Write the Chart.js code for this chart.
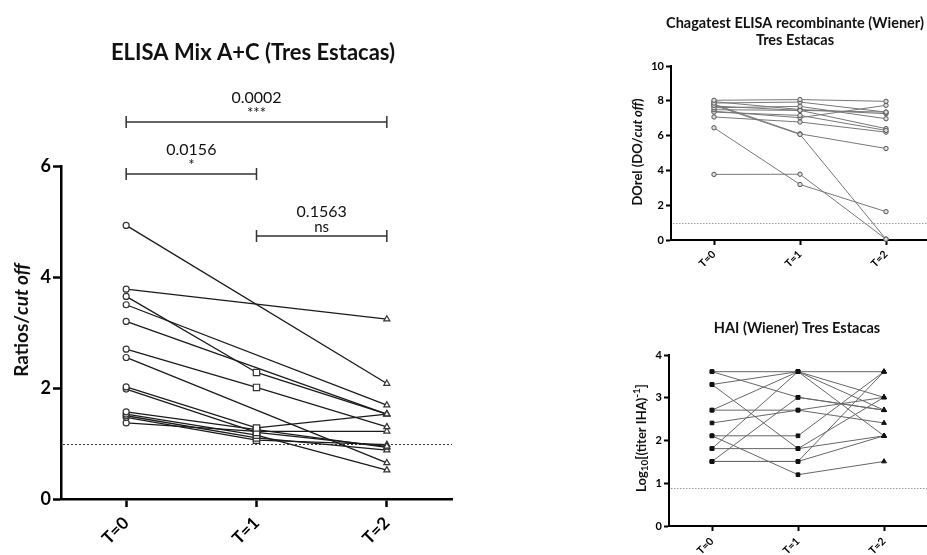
<!DOCTYPE html>
<html>
<head>
<meta charset="utf-8">
<script src="https://cdn.jsdelivr.net/npm/chart.js@4.4.1/dist/chart.umd.min.js"></script>
<style>
html, body { margin: 0; padding: 0; background: #fff; width: 927px; height: 555px; overflow: hidden; position: relative; }
canvas { position: absolute; }
</style>
</head>
<body>
<canvas id="elisa" width="470" height="555" style="left:0;top:0"></canvas>
<canvas id="chaga" width="345" height="290" style="left:600px;top:0"></canvas>
<canvas id="hai" width="345" height="255" style="left:600px;top:300px"></canvas>
<script>
var times = ['T=0', 'T=1', 'T=2'];

// ELISA Mix A+C, one value per patient and time (null = no sample)
var elisaT0 = [4.93, 3.78, 3.65, 3.50, 3.20, 2.70, 2.55, 2.02, 1.98, 1.57, 1.53, 1.50, 1.47, 1.37];
var elisaT1 = [null, null, 2.28, null, null, 2.01, null, 1.28, 1.20, 1.25, 1.15, 1.10, 1.06, 1.22];
var elisaT2 = [2.08, 3.24, 1.53, 1.69, 1.53, 1.30, 0.65, 1.53, 0.95, 0.93, 0.52, 0.88, 0.98, 1.22];
var elisaCutoff = 1;
var elisaMax = 6;

// p values shown above the ELISA panel
var compFrom = [0, 0, 1];
var compTo = [2, 1, 2];
var compLevel = [6.79, 5.86, 4.74];
var compP = ['0.0002', '0.0156', '0.1563'];
var compStars = ['***', '*', 'ns'];

// Chagatest ELISA recombinante (Wiener)
var chagaT0 = [8.03, 7.87, 7.74, 7.60, 7.49, 7.35, 7.07, 7.80, 7.40, 6.45, 3.77, 7.70, 7.95];
var chagaT1 = [8.07, 7.93, 6.07, 7.68, 7.45, 7.16, 6.78, 6.10, 7.03, 3.19, 3.78, 7.45, 7.50];
var chagaT2 = [7.97, 7.35, 0.05, 6.97, 7.35, 6.30, 6.20, 5.26, 7.74, 1.63, 0.05, 6.40, 7.26];
var chagaCutoff = 1;
var chagaMax = 10;

// HAI (Wiener), log10 of inverse titer
var haiT0 = [3.61, 3.61, 3.31, 3.31, 2.71, 2.71, 2.41, 2.11, 2.11, 1.81, 1.81, 1.51, 1.51, 1.51];
var haiT1 = [3.61, 3.01, 3.61, 1.81, 2.71, 3.61, 2.71, 2.11, 1.20, 1.81, 3.61, 1.51, 3.01, 1.51];
var haiT2 = [3.61, 2.71, 2.11, 3.01, 3.01, 2.71, 2.41, 3.61, 1.51, 2.11, 3.01, 3.61, 2.71, 2.11];
var haiCutoff = 0.9;
var haiMax = 4;

var FONT = 'Lato, "Open Sans", sans-serif';

function subjects(t0, t1, t2, st) {
    var out = [];
    for (var i = 0; i < t0.length; i++) {
        out.push({
            data: [t0[i], t1[i], t2[i]],
            borderColor: st.line,
            borderWidth: st.lineWidth,
            pointStyle: st.shapes,
            pointRadius: st.radius,
            pointBorderColor: st.pointBorder,
            pointBorderWidth: st.pointBorderWidth,
            pointBackgroundColor: st.pointFill,
            spanGaps: true,
            tension: 0,
            clip: false
        });
    }
    return out;
}

// title, rotated y title, dotted cut-off line and comparison brackets
var deco = {
    id: 'deco',
    beforeDatasetsDraw: function (chart, args, o) {
        var ctx = chart.ctx, a = chart.chartArea, y = chart.scales.y;
        ctx.save();
        ctx.setLineDash(o.dash);
        ctx.strokeStyle = o.dashColor;
        ctx.lineWidth = 1;
        var yc = Math.round(y.getPixelForValue(o.cutoff)) + 0.5;
        ctx.beginPath();
        ctx.moveTo(a.left + 2, yc);
        ctx.lineTo(a.right, yc);
        ctx.stroke();
        ctx.restore();
    },
    afterDraw: function (chart, args, o) {
        var ctx = chart.ctx, x = chart.scales.x, y = chart.scales.y;
        ctx.save();
        ctx.fillStyle = '#111';
        ctx.textAlign = 'center';
        ctx.textBaseline = 'middle';
        ctx.font = o.titleFont;
        o.title.forEach(function (t, i) {
            ctx.fillText(t, o.titleX, o.titleY + i * o.titleGap);
        });

        // y title made of runs (italic parts, sub/superscripts)
        ctx.save();
        ctx.translate(o.yTitleX, o.yTitleY);
        ctx.rotate(-Math.PI / 2);
        ctx.textAlign = 'left';
        ctx.textBaseline = 'middle';
        var total = 0;
        o.yTitle.forEach(function (r) { ctx.font = r.font; total += ctx.measureText(r.text).width; });
        var cx = -total / 2;
        o.yTitle.forEach(function (r) {
            ctx.font = r.font;
            ctx.fillText(r.text, cx, r.dy || 0);
            cx += ctx.measureText(r.text).width;
        });
        ctx.restore();

        if (o.compare) {
            var c = o.compare;
            ctx.strokeStyle = '#333';
            ctx.lineWidth = 1.5;
            for (var i = 0; i < c.from.length; i++) {
                var x1 = x.getPixelForValue(c.from[i]);
                var x2 = x.getPixelForValue(c.to[i]);
                var yy = Math.round(y.getPixelForValue(c.level[i]));
                ctx.beginPath();
                ctx.moveTo(x1, yy); ctx.lineTo(x2, yy);
                ctx.moveTo(x1, yy - 6); ctx.lineTo(x1, yy + 6);
                ctx.moveTo(x2, yy - 6); ctx.lineTo(x2, yy + 6);
                ctx.stroke();
                ctx.textBaseline = 'alphabetic';
                ctx.textAlign = 'center';
                ctx.font = '16px ' + FONT;
                ctx.fillText(c.p[i], (x1 + x2) / 2, yy - 19);
                ctx.font = '15px ' + FONT;
                ctx.fillText(c.stars[i], (x1 + x2) / 2, yy - 4);
            }
        }
        ctx.restore();
    }
};

function makeChart(id, datasets, ax, deco) {
    return new Chart(document.getElementById(id), {
        type: 'line',
        data: { labels: times, datasets: datasets },
        plugins: [deco.plugin],
        options: {
            responsive: false,
            animation: false,
            events: [],
            layout: { autoPadding: false, padding: { top: ax.top, right: ax.right, left: 0, bottom: 0 } },
            plugins: { legend: { display: false }, tooltip: { enabled: false }, deco: deco.opts },
            scales: {
                x: {
                    offset: true,
                    afterFit: function (s) { s.height = ax.xHeight; },
                    border: { color: '#000', width: ax.border },
                    grid: { drawOnChartArea: false, color: '#000', tickLength: ax.tick, tickWidth: ax.border },
                    ticks: { color: '#000', minRotation: 45, maxRotation: 45, padding: ax.xPad,
                             font: { family: FONT, size: ax.xFont, weight: 'bold' } }
                },
                y: {
                    min: 0, max: ax.max,
                    afterFit: function (s) { s.width = ax.yWidth; },
                    border: { color: '#000', width: ax.border },
                    grid: { drawOnChartArea: false, color: '#000', tickLength: ax.tick, tickWidth: ax.border },
                    ticks: { color: '#000', stepSize: ax.step, padding: 2,
                             font: { family: FONT, size: ax.yFont, weight: 'bold' } }
                }
            }
        }
    });
}

makeChart('elisa',
    subjects(elisaT0, elisaT1, elisaT2, {
        line: '#1a1a1a', lineWidth: 1.3, shapes: ['circle', 'rect', 'triangle'], radius: [3, 4.5, 3.5],
        pointBorder: '#333', pointBorderWidth: 1.2, pointFill: '#fff'
    }),
    { top: 166, right: 18, xHeight: 56, yWidth: 61, max: elisaMax, step: 2, border: 2.5, tick: 8,
      xFont: 17, yFont: 18, xPad: 6 },
    { plugin: deco, opts: {
        cutoff: elisaCutoff, dash: [2, 2], dashColor: '#333',
        title: ['ELISA Mix A+C (Tres Estacas)'], titleFont: 'bold 22px ' + FONT, titleX: 253, titleY: 53, titleGap: 0,
        yTitle: [{ text: 'Ratios/', font: 'bold 19px ' + FONT }, { text: 'cut off', font: 'italic bold 19px ' + FONT }],
        yTitleX: 22, yTitleY: 320,
        compare: { from: compFrom, to: compTo, level: compLevel, p: compP, stars: compStars }
    } });

makeChart('chaga',
    subjects(chagaT0, chagaT1, chagaT2, {
        line: '#777', lineWidth: 1, shapes: 'circle', radius: 2.2,
        pointBorder: '#555', pointBorderWidth: 1, pointFill: '#ddd'
    }),
    { top: 66, right: 16, xHeight: 50, yWidth: 71, max: chagaMax, step: 2, border: 2, tick: 5,
      xFont: 10.5, yFont: 11, xPad: 3 },
    { plugin: deco, opts: {
        cutoff: chagaCutoff, dash: [1.5, 1.5], dashColor: '#999',
        title: ['Chagatest ELISA recombinante (Wiener)', 'Tres Estacas'], titleFont: 'bold 14.5px ' + FONT,
        titleX: 195, titleY: 23, titleGap: 17,
        yTitle: [{ text: 'DOrel (DO/', font: 'bold 13px ' + FONT }, { text: 'cut off', font: 'italic bold 13px ' + FONT },
                 { text: ')', font: 'bold 13px ' + FONT }],
        yTitleX: 38, yTitleY: 152
    } });

makeChart('hai',
    subjects(haiT0, haiT1, haiT2, {
        line: '#666', lineWidth: 1, shapes: ['rect', 'rect', 'triangle'], radius: [2.6, 2.6, 2.8],
        pointBorder: '#111', pointBorderWidth: 1, pointFill: '#111'
    }),
    { top: 55, right: 18, xHeight: 29, yWidth: 69, max: haiMax, step: 1, border: 2, tick: 5,
      xFont: 10.5, yFont: 11, xPad: 4 },
    { plugin: deco, opts: {
        cutoff: haiCutoff, dash: [1.5, 1.5], dashColor: '#999',
        title: ['HAI (Wiener) Tres Estacas'], titleFont: 'bold 14.5px ' + FONT, titleX: 197, titleY: 28, titleGap: 0,
        yTitle: [{ text: 'Log', font: 'bold 13px ' + FONT }, { text: '10', font: 'bold 10px ' + FONT, dy: 3 },
                 { text: '[(titer IHA)', font: 'bold 13px ' + FONT }, { text: '-1', font: 'bold 10px ' + FONT, dy: -5 },
                 { text: ']', font: 'bold 13px ' + FONT }],
        yTitleX: 42, yTitleY: 138
    } });
</script>
</body>
</html>
